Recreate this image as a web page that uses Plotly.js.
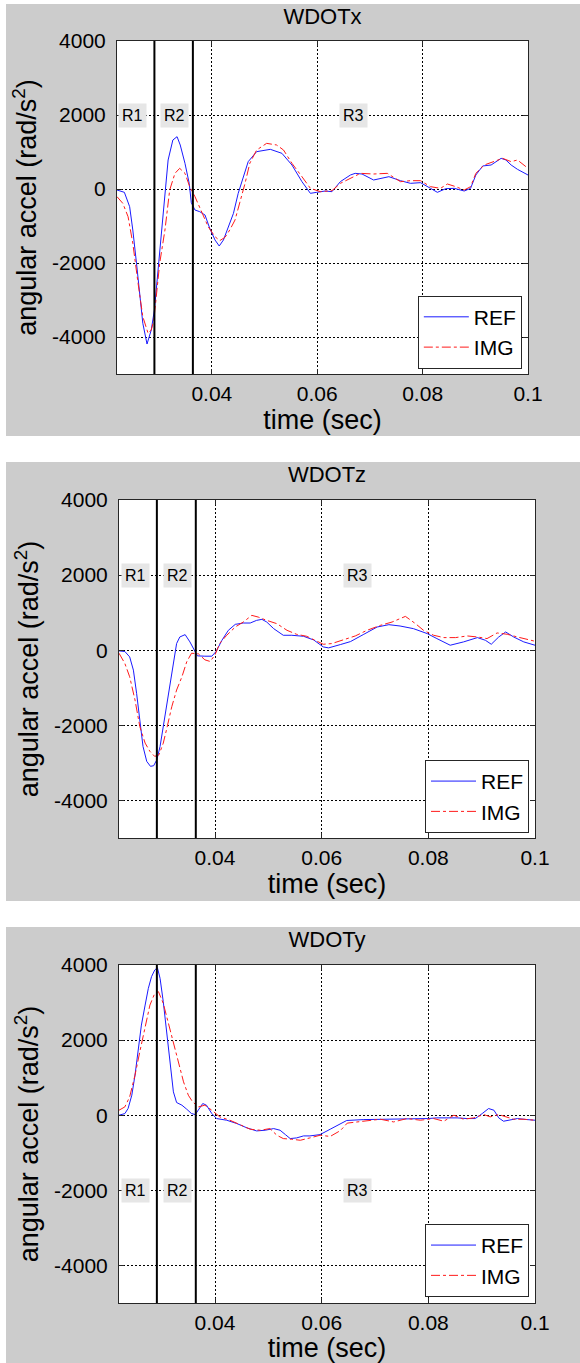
<!DOCTYPE html>
<html>
<head>
<meta charset="utf-8">
<script src="https://cdn.plot.ly/plotly-3.0.1.min.js"></script>
<style>
  html, body { margin: 0; padding: 0; background: #ffffff; width: 580px; height: 1363px; overflow: hidden; }
  .panel { position: absolute; left: 6px; width: 574px; }
</style>
</head>
<body>
<div id="p1" class="panel" style="top:4px;height:432px;"></div>
<div id="p2" class="panel" style="top:462px;height:439px;"></div>
<div id="p3" class="panel" style="top:927px;height:436px;"></div>
<script>
// ---------- tick labels ----------
const xTickVals = [0.04, 0.06, 0.08, 0.1];
const xTickText = ['0.04', '0.06', '0.08', '0.1'];
const yTickVals = [-4000, -2000, 0, 2000, 4000];
const yTickText = ['-4000', '-2000', '0', '2000', '4000'];
const seriesNames = ['REF', 'IMG'];
const regionNames = ['R1', 'R2', 'R3'];
const regionBounds = [0.0291, 0.0364];   // times of the region boundaries (sec)

// ---------- WDOTx ----------
const wxTimeRef = [0.0220,0.0234,0.0244,0.0250,0.0257,0.0263,0.0269,0.0277,0.0285,0.0291,0.0298,0.0304,0.0311,0.0317,0.0326,0.0334,0.0340,0.0349,0.0357,0.0361,0.0368,0.0377,0.0387,0.0396,0.0406,0.0414,0.0422,0.0431,0.0441,0.0450,0.0460,0.0469,0.0485,0.0511,0.0533,0.0552,0.0571,0.0587,0.0599,0.0615,0.0628,0.0644,0.0663,0.0672,0.0685,0.0707,0.0736,0.0758,0.0777,0.0796,0.0815,0.0828,0.0844,0.0860,0.0879,0.0891,0.0901,0.0914,0.0930,0.0949,0.0958,0.0968,0.0980,0.1000];
const wxRef = [-27,-90,-478,-1108,-2009,-2910,-3630,-4190,-3811,-3270,-2190,-1108,-27,784,1324,1414,1189,694,153,-369,-568,-613,-703,-1063,-1378,-1541,-1378,-1018,-658,-117,333,739,1009,1072,964,648,198,-117,-90,-54,-72,200,378,423,405,243,333,225,153,171,18,-90,9,18,-54,18,378,622,649,829,784,649,532,378];
const wxTimeImg = [0.0220,0.0231,0.0241,0.0250,0.0260,0.0269,0.0279,0.0285,0.0290,0.0295,0.0301,0.0311,0.0320,0.0330,0.0339,0.0349,0.0358,0.0368,0.0380,0.0393,0.0406,0.0415,0.0425,0.0434,0.0444,0.0453,0.0463,0.0472,0.0485,0.0504,0.0523,0.0536,0.0552,0.0571,0.0587,0.0606,0.0628,0.0644,0.0663,0.0682,0.0707,0.0733,0.0758,0.0777,0.0796,0.0815,0.0834,0.0847,0.0863,0.0879,0.0891,0.0901,0.0917,0.0936,0.0952,0.0968,0.0980,0.0996];
const wxImg = [-207,-387,-748,-1468,-2550,-3451,-3901,-3811,-3541,-2910,-2009,-1108,-27,423,559,423,63,-207,-613,-1018,-1288,-1396,-1306,-1108,-838,-387,153,694,1054,1234,1189,1054,694,333,18,-72,-45,153,288,423,405,423,198,225,225,63,18,135,63,-27,63,423,649,739,829,739,784,604];

// ---------- WDOTz ----------
const wzTimeRef = [0.0220,0.0231,0.0240,0.0247,0.0253,0.0259,0.0265,0.0272,0.0279,0.0285,0.0291,0.0297,0.0303,0.0309,0.0316,0.0322,0.0328,0.0334,0.0344,0.0353,0.0361,0.0367,0.0381,0.0394,0.0402,0.0413,0.0425,0.0438,0.0453,0.0466,0.0478,0.0488,0.0497,0.0510,0.0528,0.0544,0.0566,0.0585,0.0603,0.0613,0.0635,0.0654,0.0679,0.0704,0.0726,0.0747,0.0772,0.0798,0.0816,0.0841,0.0866,0.0892,0.0907,0.0918,0.0932,0.0945,0.0960,0.0979,0.1000];
const wzRef = [-18,-35,-177,-530,-1148,-1855,-2562,-2959,-3092,-3075,-2915,-2562,-2032,-1502,-972,-354,177,353,415,221,9,-150,-159,-159,-35,265,530,689,724,724,795,822,751,575,398,398,371,274,88,62,150,230,424,618,680,645,575,442,310,133,221,336,265,159,353,486,353,221,133];
const wzTimeImg = [0.0220,0.0231,0.0240,0.0250,0.0259,0.0269,0.0278,0.0287,0.0295,0.0303,0.0309,0.0319,0.0328,0.0338,0.0347,0.0356,0.0369,0.0381,0.0391,0.0400,0.0409,0.0422,0.0438,0.0453,0.0469,0.0481,0.0497,0.0516,0.0535,0.0553,0.0572,0.0588,0.0603,0.0619,0.0641,0.0663,0.0685,0.0710,0.0732,0.0757,0.0776,0.0791,0.0810,0.0829,0.0851,0.0873,0.0892,0.0910,0.0929,0.0948,0.0967,0.0985,0.1000];
const wzImg = [-80,-353,-707,-1325,-2032,-2473,-2694,-2827,-2783,-2473,-2120,-1502,-1060,-707,-309,-80,-97,-256,-300,-124,186,398,618,751,928,883,795,707,530,424,371,265,159,177,275,380,530,662,751,901,707,530,398,336,336,380,353,310,460,424,353,283,239];

// ---------- WDOTy ----------
const wyTimeRef = [0.0220,0.0231,0.0237,0.0244,0.0250,0.0256,0.0262,0.0269,0.0275,0.0281,0.0287,0.0292,0.0297,0.0303,0.0309,0.0316,0.0322,0.0328,0.0338,0.0347,0.0356,0.0363,0.0369,0.0377,0.0384,0.0394,0.0403,0.0422,0.0441,0.0460,0.0478,0.0494,0.0510,0.0522,0.0532,0.0541,0.0553,0.0566,0.0578,0.0597,0.0616,0.0629,0.0647,0.0679,0.0710,0.0741,0.0772,0.0799,0.0816,0.0835,0.0854,0.0873,0.0888,0.0901,0.0913,0.0923,0.0932,0.0941,0.0951,0.0967,0.0985,0.1000];
const wyRef = [0,44,178,533,1067,1778,2400,2933,3378,3689,3866,3929,3644,3022,2222,1333,622,338,267,160,44,18,160,311,267,44,-89,-133,-222,-338,-418,-400,-356,-400,-516,-622,-604,-551,-551,-516,-373,-267,-140,-116,-107,-107,-107,-89,-71,-62,-71,-89,-89,44,178,133,-71,-160,-133,-89,-116,-133];
const wyTimeImg = [0.0220,0.0231,0.0240,0.0250,0.0259,0.0269,0.0278,0.0287,0.0294,0.0303,0.0312,0.0322,0.0331,0.0341,0.0350,0.0358,0.0369,0.0381,0.0394,0.0409,0.0428,0.0447,0.0466,0.0485,0.0503,0.0516,0.0528,0.0544,0.0560,0.0578,0.0597,0.0616,0.0635,0.0648,0.0679,0.0710,0.0735,0.0760,0.0785,0.0810,0.0829,0.0848,0.0866,0.0885,0.0904,0.0916,0.0932,0.0945,0.0960,0.0979,0.1000];
const wyImg = [133,222,489,1067,1689,2311,2933,3244,3289,2978,2489,1956,1422,889,533,356,222,267,133,-44,-133,-249,-373,-400,-356,-533,-622,-640,-667,-604,-533,-565,-410,-210,-160,-107,-178,-89,-133,-89,-160,0,-107,-71,18,-44,18,-44,-107,-107,-133];

const FONT = 'Liberation Sans, Arial, Helvetica, sans-serif';

function makePanel(div, title, tRef, vRef, tImg, vImg, opts) {
  const traces = [
    { x: tRef, y: vRef, type: 'scatter', mode: 'lines', name: seriesNames[0],
      line: { color: '#1a1aff', width: 1 } },
    { x: tImg, y: vImg, type: 'scatter', mode: 'lines', name: seriesNames[1],
      line: { color: '#ff1a1a', width: 1, dash: 'dashdot' } }
  ];
  const shapes = regionBounds.map(b => ({
    type: 'line', xref: 'x', yref: 'paper', x0: b, x1: b, y0: 0, y1: 1,
    line: { color: '#000000', width: 2 }
  }));
  const labelT = [0.0250, 0.0330, 0.0668];
  const annotations = regionNames.map((r, i) => ({
    x: labelT[i], y: opts.labelY, xref: 'x', yref: 'y', text: r, showarrow: false,
    font: { family: FONT, size: 16, color: '#000000' },
    bgcolor: '#e6e6e6', borderpad: 3
  }));
  const axisCommon = {
    showgrid: true, gridcolor: '#000000', gridwidth: 1, griddash: '2px,2px',
    showline: true, linecolor: '#262626', linewidth: 1, mirror: 'ticks',
    ticks: 'inside', ticklen: 5, tickcolor: '#262626', zeroline: false,
    tickfont: { family: FONT, size: 21, color: '#000000' }, fixedrange: true
  };
  const layout = {
    width: 574, height: opts.height,
    paper_bgcolor: '#cccccc', plot_bgcolor: '#ffffff',
    margin: { l: opts.l, r: opts.r, t: opts.t, b: opts.b, pad: 0 },
    title: { text: title, font: { family: FONT, size: 22, color: '#000000' },
             x: 0.5, xref: 'paper', y: 1 - 12 / opts.height, yref: 'container', yanchor: 'middle' },
    xaxis: Object.assign({}, axisCommon, {
      range: [0.022, 0.1], tickmode: 'array', tickvals: xTickVals, ticktext: xTickText,
      ticklabelstandoff: 1,
      title: { text: 'time (sec)', font: { family: FONT, size: 27, color: '#000000' }, standoff: 1 }
    }),
    yaxis: Object.assign({}, axisCommon, {
      range: [-5000, 4000], tickmode: 'array', tickvals: yTickVals, ticktext: yTickText,
      ticklabelstandoff: 6,
      title: { text: 'angular accel (rad/s<sup>2</sup>)', font: { family: FONT, size: 27, color: '#000000' }, standoff: 7 }
    }),
    showlegend: true,
    legend: { x: opts.legX, y: opts.legY, xanchor: 'right', yanchor: 'bottom',
              bgcolor: '#ffffff', bordercolor: '#262626', borderwidth: 1, itemwidth: 45,
              font: { family: FONT, size: 21, color: '#000000' } },
    shapes: shapes, annotations: annotations
  };
  Plotly.newPlot(div, traces, layout, { staticPlot: true, displayModeBar: false });
}

makePanel('p1', 'WDOTx', wxTimeRef, wxRef, wxTimeImg, wxImg,
  { height: 432, l: 111, r: 52, t: 36.5, b: 61.5, labelY: 2000, legX: 0.985, legY: 0.016 });
makePanel('p2', 'WDOTz', wzTimeRef, wzRef, wzTimeImg, wzImg,
  { height: 439, l: 113, r: 45, t: 38, b: 63, labelY: 2000, legX: 0.9856, legY: 0.015 });
makePanel('p3', 'WDOTy', wyTimeRef, wyRef, wyTimeImg, wyImg,
  { height: 436, l: 113, r: 45, t: 38, b: 60, labelY: -2000, legX: 0.9856, legY: 0.018 });
</script>
</body>
</html>
